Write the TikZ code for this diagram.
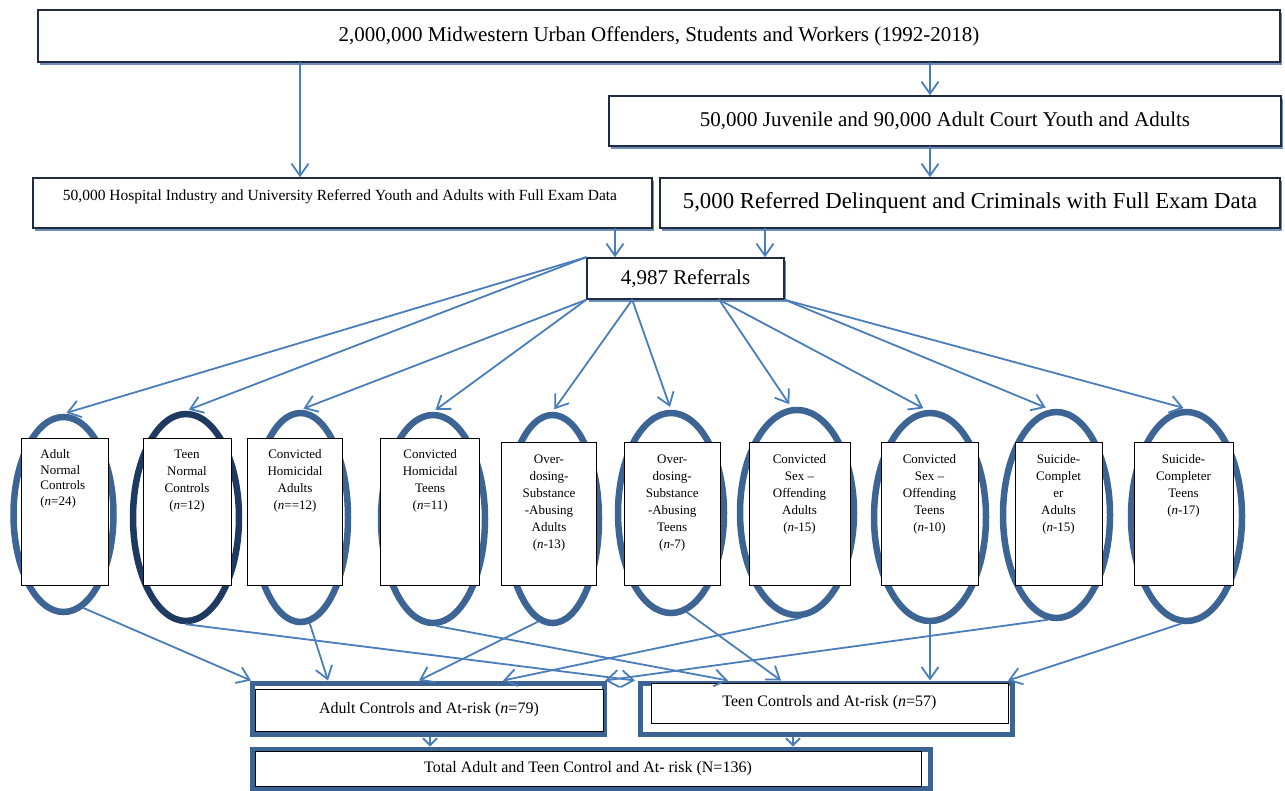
\documentclass[tikz,border=0pt]{standalone}
\usepackage{fontspec}
\setmainfont{Liberation Serif}
\usetikzlibrary{arrows.meta,shapes.geometric,shadows}
\definecolor{arr}{HTML}{4A7EBB}
\definecolor{ell}{HTML}{3C6494}
\definecolor{ellD}{HTML}{1F3A60}
\definecolor{frm}{HTML}{3D6392}
\definecolor{bdr}{HTML}{1E2B40}
\definecolor{shd}{HTML}{6F8FBA}
\begin{document}
\begin{tikzpicture}[x=1pt,y=-1pt,
  conn/.style={draw=arr,line width=1.8pt,line cap=round,-{Straight Barb[length=12pt,width=17pt,line width=1.8pt]}},
  sconn/.style={draw=arr,line width=1.8pt,-{Straight Barb[length=7pt,width=14pt,line width=1.8pt]}},
  topbox/.style={draw=bdr,line width=1.6pt,fill=white,inner sep=0pt,
     drop shadow={shadow xshift=2pt,shadow yshift=-2.5pt,fill=shd,opacity=1}},
  ellnode/.style={ellipse,draw=ell,line width=6.5pt,inner sep=0pt},
  rectnode/.style={rectangle,draw=black,line width=0.8pt,fill=white,inner sep=0pt},
  etext/.style={font=\fontsize{13}{17}\selectfont,align=center,inner sep=0pt,anchor=north},
  frame/.style={rectangle,draw=frm,line width=5pt,inner sep=0pt},
  inbox/.style={rectangle,draw=black,line width=0.9pt,fill=white,inner sep=0pt,font=\fontsize{16}{19}\selectfont}
]
\useasboundingbox (0,0) rectangle (1285,790);

% top boxes
\node[topbox,minimum width=1242pt,minimum height=52pt,font=\fontsize{21}{24}\selectfont] (top) at (659,36)
  {2,000,000 Midwestern Urban Offenders, Students and Workers (1992-2018)};
\node[topbox,minimum width=672pt,minimum height=50pt,font=\fontsize{21}{24}\selectfont] (juv) at (945,121)
  {50,000 Juvenile and 90,000 Adult Court Youth and Adults};
\node[topbox,minimum width=619pt,minimum height=50pt] (hosp) at (342.5,203) {};
\node[font=\fontsize{15.5}{18}\selectfont,inner sep=0pt] (hosptext) at (340,197)
  {50,000 Hospital Industry and University Referred Youth and Adults with Full Exam Data};
\node[topbox,minimum width=620pt,minimum height=50pt,font=\fontsize{22.8}{26}\selectfont] (five) at (970,203)
  {5,000 Referred Delinquent and Criminals with Full Exam Data};
\node[topbox,minimum width=197pt,minimum height=41pt,font=\fontsize{21}{24}\selectfont] (ref) at (685.5,278.5)
  {4,987 Referrals};

\draw[conn] ([xshift=-359pt]top.south) -- ([xshift=-359pt]top.south |- hosp.north);
\draw[conn] ([xshift=271pt]top.south) -- ([xshift=271pt]top.south |- juv.north);
\draw[conn] ([xshift=-15pt]juv.south) -- ([xshift=-15pt]juv.south |- five.north);
\draw[conn] ([xshift=272.5pt]hosp.south) -- ([xshift=272.5pt]hosp.south |- ref.north);
\draw[conn] ([xshift=-205pt]five.south) -- ([xshift=-205pt]five.south |- ref.north);

% ellipses
\node[ellnode,minimum width=100pt,minimum height=195pt] (e1) at (63.5,514.5) {};
\node[ellnode,draw=ellD,minimum width=106pt,minimum height=207pt] (e2) at (186,517.5) {};
\node[ellnode,minimum width=95pt,minimum height=209pt] (e3) at (300.5,517.5) {};
\node[ellnode,minimum width=104pt,minimum height=208pt] (e4) at (433,519) {};
\node[ellnode,minimum width=93pt,minimum height=208pt] (e5) at (552.5,519) {};
\node[ellnode,minimum width=106pt,minimum height=200pt] (e6) at (671,513) {};
\node[ellnode,minimum width=114pt,minimum height=205pt] (e7) at (797,512.5) {};
\node[ellnode,minimum width=112pt,minimum height=208pt] (e8) at (930,517) {};
\node[ellnode,minimum width=107pt,minimum height=206pt] (e9) at (1056.5,515) {};
\node[ellnode,minimum width=111pt,minimum height=209pt] (e10) at (1186.5,516.5) {};

% rectangles
\node[rectnode,minimum width=86.4pt,minimum height=147pt] (r1) at (64.8,511.5) {};
\node[rectnode,minimum width=88pt,minimum height=147pt] (r2) at (187,511.5) {};
\node[rectnode,minimum width=95pt,minimum height=147pt] (r3) at (295,511.5) {};
\node[rectnode,minimum width=99pt,minimum height=147pt] (r4) at (430.2,511.5) {};
\node[rectnode,minimum width=94.5pt,minimum height=143pt] (r5) at (549,513.5) {};
\node[rectnode,minimum width=96.4pt,minimum height=143pt] (r6) at (672.2,513.5) {};
\node[rectnode,minimum width=101pt,minimum height=143pt] (r7) at (799.5,513.5) {};
\node[rectnode,minimum width=97pt,minimum height=143pt] (r8) at (929.5,513.5) {};
\node[rectnode,minimum width=87pt,minimum height=143pt] (r9) at (1058.5,513.5) {};
\node[rectnode,minimum width=99pt,minimum height=143pt] (r10) at (1183.5,513.5) {};

\node[etext,anchor=north west,align=left,font=\fontsize{13}{15.5}\selectfont] (t1) at ([xshift=19pt,yshift=-12pt]r1.north west)
  {Adult\\Normal\\Controls\\(\textit{n}=24)};
\node[etext] (t2) at ([yshift=-12pt]r2.north) {Teen\\Normal\\Controls\\(\textit{n}=12)};
\node[etext] (t3) at ([yshift=-12pt]r3.north) {Convicted\\Homicidal\\Adults\\(\textit{n}==12)};
\node[etext] (t4) at ([yshift=-12pt]r4.north) {Convicted\\Homicidal\\Teens\\(\textit{n}=11)};
\node[etext] (t5) at ([yshift=-13pt]r5.north) {Over-\\dosing-\\Substance\\-Abusing\\Adults\\(\textit{n}-13)};
\node[etext] (t6) at ([yshift=-13pt]r6.north) {Over-\\dosing-\\Substance\\-Abusing\\Teens\\(\textit{n}-7)};
\node[etext] (t7) at ([yshift=-13pt]r7.north) {Convicted\\Sex --\\Offending\\Adults\\(\textit{n}-15)};
\node[etext] (t8) at ([yshift=-13pt]r8.north) {Convicted\\Sex --\\Offending\\Teens\\(\textit{n}-10)};
\node[etext] (t9) at ([yshift=-13pt]r9.north) {Suicide-\\Complet\\er\\Adults\\(\textit{n}-15)};
\node[etext] (t10) at ([yshift=-13pt]r10.north) {Suicide-\\Completer\\Teens\\(\textit{n}-17)};

% referrals to ellipses
\draw[conn,shorten >=3pt] (ref.north west) -- (e1.north);
\draw[conn,shorten >=3pt] (ref.north west) -- (e2.north);
\draw[conn,shorten >=3pt] (ref.south west) -- (e3.north);
\draw[conn,shorten >=3pt] (ref.south west) -- (e4.north);
\draw[conn,shorten >=3pt] ([xshift=46pt]ref.south west) -- (e5.north);
\draw[conn,shorten >=3pt] ([xshift=46pt]ref.south west) -- (e6.north);
\draw[conn,shorten >=3pt] ([xshift=133pt]ref.south west) -- ([xshift=-6pt]e7.north);
\draw[conn,shorten >=3pt] ([xshift=133pt]ref.south west) -- ([xshift=-4pt]e8.north);
\draw[conn,shorten >=3pt] (ref.south east) -- ([xshift=-8pt]e9.north);
\draw[conn,shorten >=3pt] (ref.south east) -- (e10.north);

% bottom frames
\node[frame,minimum width=352pt,minimum height=51pt] (adultf) at (428,708.5) {};
\node[frame,minimum width=372pt,minimum height=51pt] (teenf) at (826,708.5) {};
\node[frame,minimum width=678pt,minimum height=39pt] (totalf) at (591,768.5) {};
\node[inbox,minimum width=348pt,minimum height=42pt] (adult) at (429,710) {Adult Controls and At-risk (\textit{n}=79)};
\node[inbox,minimum width=357pt,minimum height=40pt] (teen) at (829.5,703) {Teen Controls and At-risk (\textit{n}=57)};
\node[inbox,minimum width=666pt,minimum height=35pt] (total) at (588,768.5) {Total Adult and Teen Control and At- risk (N=136)};

% ellipses to groups
\draw[conn] (e1.-78) -- ([xshift=1.5pt]adultf.north west);
\draw[conn] (e3.-85) -- ([xshift=78.5pt]adultf.north west);
\draw[conn] (e5.-98) -- ([xshift=169.5pt]adultf.north west);
\draw[conn] (e7.-88) -- ([xshift=253.5pt]adultf.north west);
\draw[conn] (e9.-95) -- ([xshift=-1.5pt]adultf.north east);
\draw[conn] (e2.south) -- ([xshift=-2.5pt]teenf.north west);
\draw[conn] (e4.-88) -- ([xshift=90.5pt]teenf.north west);
\draw[conn] (e6.-81) -- ([xshift=143.5pt]teenf.north west);
\draw[conn] (e8.south) -- (e8.south |- teenf.north);
\draw[conn] (e10.-93) -- ([xshift=-6.5pt]teenf.north east);

% groups to total
\draw[sconn] ([xshift=2pt]adultf.south) -- ([xshift=2pt]adultf.south |- totalf.north);
\draw[sconn] ([xshift=-33pt]teenf.south) -- ([xshift=-33pt]teenf.south |- totalf.north);
\end{tikzpicture}
\end{document}
